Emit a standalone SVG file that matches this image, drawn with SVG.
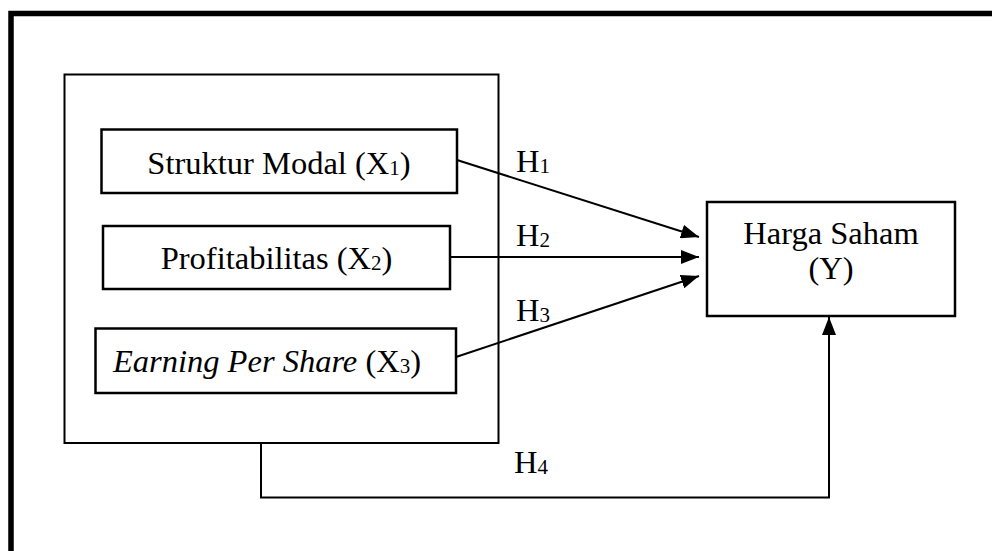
<svg xmlns="http://www.w3.org/2000/svg" width="992" height="551" viewBox="0 0 992 551">
<defs>
<style>
.box{fill:#fff;stroke:#000;stroke-width:2.5}
.grp{fill:none;stroke:#000;stroke-width:2}
.frame{fill:none;stroke:#000;stroke-width:5.5}
.con{fill:none;stroke:#000;stroke-width:2}
.t{font-family:"Liberation Serif","Times New Roman",serif;font-size:32.5px;fill:#000}
.sub{font-size:21px}
</style>
<marker id="ah" viewBox="0 0 18 14" refX="18" refY="7" markerWidth="18" markerHeight="14" markerUnits="userSpaceOnUse" orient="auto">
<path d="M0,0 L18,7 L0,14 Z" fill="#000"/>
</marker>
</defs>
<rect width="992" height="551" fill="#fff"/>
<rect class="frame" x="11" y="13.5" width="1000" height="560"/>
<g id="group-x">
<rect class="grp" x="64.5" y="74.5" width="434" height="368.5"/>
</g>
<g id="x1">
<rect class="box" x="101.5" y="129.5" width="355.5" height="63.5"/>
<text class="t" x="279" y="174" text-anchor="middle">Struktur Modal (X<tspan class="sub" dy="1">1</tspan><tspan dy="-1">)</tspan></text>
</g>
<g id="x2">
<rect class="box" x="103" y="226" width="347" height="63"/>
<text class="t" x="276.5" y="269" text-anchor="middle">Profitabilitas (X<tspan class="sub" dy="1">2</tspan><tspan dy="-1">)</tspan></text>
</g>
<g id="x3">
<rect class="box" x="95.5" y="328.5" width="360.5" height="64.5"/>
<text class="t" x="267" y="372" text-anchor="middle"><tspan font-style="italic">Earning Per Share</tspan> (X<tspan class="sub" dy="1">3</tspan><tspan dy="-1">)</tspan></text>
</g>
<g id="y">
<rect class="box" x="707" y="202" width="248" height="114"/>
<text class="t" x="831" y="244" text-anchor="middle">Harga Saham</text>
<text class="t" x="831" y="279" text-anchor="middle">(Y)</text>
</g>
<g id="connectors">
<line class="con" x1="457" y1="160" x2="699" y2="237" marker-end="url(#ah)"/>
<line class="con" x1="450" y1="257" x2="699" y2="257" marker-end="url(#ah)"/>
<line class="con" x1="456" y1="357" x2="699" y2="276" marker-end="url(#ah)"/>
<polyline class="con" points="261,443 261,497.5 829,497.5 829,317" marker-end="url(#ah)"/>
<text class="t" x="516" y="172">H<tspan class="sub" dy="1">1</tspan></text>
<text class="t" x="516" y="246">H<tspan class="sub" dy="1">2</tspan></text>
<text class="t" x="516" y="321">H<tspan class="sub" dy="1">3</tspan></text>
<text class="t" x="514" y="473">H<tspan class="sub" dy="1">4</tspan></text>
</g>
</svg>
